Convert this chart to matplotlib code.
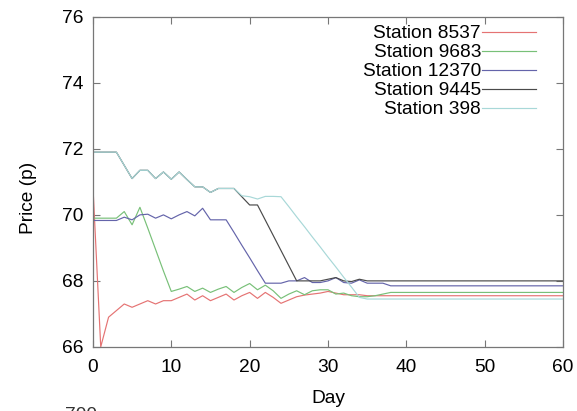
import numpy as np
import matplotlib.pyplot as plt

plt.rcParams['font.family'] = ['Liberation Sans', 'DejaVu Sans']

days = np.arange(0, 61)

# daily prices (p)
price_8537 = [70.9, 66.0, 66.9, 67.1, 67.3, 67.2, 67.3, 67.4, 67.3, 67.4,
              67.4, 67.5, 67.6, 67.42, 67.55, 67.4, 67.5, 67.6, 67.42, 67.55,
              67.65, 67.47, 67.65, 67.5, 67.32, 67.42, 67.52, 67.57, 67.6, 67.63,
              67.68, 67.63, 67.58, 67.58, 67.58] + [67.55] * 26
price_9683 = [69.9, 69.9, 69.9, 69.9, 70.1, 69.7, 70.23, 69.6, 68.95, 68.3,
              67.68, 67.75, 67.83, 67.68, 67.78, 67.65, 67.75, 67.83, 67.65, 67.8,
              67.92, 67.73, 67.87, 67.7, 67.47, 67.6, 67.7, 67.58, 67.7, 67.73,
              67.73, 67.6, 67.63, 67.55, 67.52, 67.52, 67.55, 67.6] + [67.65] * 23
price_12370 = [69.83, 69.83, 69.83, 69.83, 69.93, 69.85, 70.0, 70.02, 69.9, 70.0,
               69.88, 70.0, 70.1, 69.97, 70.2, 69.85, 69.85, 69.85, 69.47, 69.08,
               68.7, 68.31, 67.93, 67.93, 67.93, 68.0, 68.0, 68.1, 67.95, 67.95,
               68.0, 68.1, 67.95, 67.93, 68.03, 67.93, 67.93, 67.93] + [67.85] * 23
price_9445 = [71.9, 71.9, 71.9, 71.9, 71.5, 71.1, 71.35, 71.35, 71.1, 71.3,
              71.08, 71.3, 71.07, 70.85, 70.85, 70.68, 70.8, 70.8, 70.8, 70.55,
              70.3, 70.3, 69.84, 69.38, 68.92, 68.46, 68.0, 68.0, 68.0, 68.0,
              68.05, 68.1, 68.0, 67.98, 68.05] + [68.0] * 26
price_398 = [71.9, 71.9, 71.9, 71.9, 71.5, 71.1, 71.35, 71.35, 71.1, 71.3,
             71.08, 71.3, 71.07, 70.85, 70.85, 70.68, 70.8, 70.8, 70.8, 70.58,
             70.55, 70.48, 70.56, 70.56, 70.55, 70.25, 69.94, 69.64, 69.33, 69.03,
             68.72, 68.42, 68.11, 67.81, 67.5] + [67.45] * 26

series = [("Station 8537", price_8537, "#e57373"),
          ("Station 9683", price_9683, "#78c078"),
          ("Station 12370", price_12370, "#6464aa"),
          ("Station 9445", price_9445, "#4a4a4a"),
          ("Station 398", price_398, "#a8d8d8")]

FS = 13.8

fig = plt.figure(figsize=(5.77, 4.11), dpi=100)
ax = fig.add_axes([0.161, 0.156, 0.815, 0.803])

for name, y, c in series:
  ax.plot(days, y, color=c, lw=0.85, label=name)

ax.set_xlim(0, 60)
ax.set_ylim(66, 76)
ax.set_xticks(range(0, 61, 10))
ax.set_yticks(range(66, 77, 2))
ax.tick_params(direction="in", top=True, right=True, length=5, width=0.8,
               color="#777777", labelsize=FS, pad=7)
ax.tick_params(axis="x", pad=9)
for s in ax.spines.values():
  s.set_color("#777777")
  s.set_linewidth(0.9)

ax.set_xlabel("Day", fontsize=FS)
ax.set_ylabel("Price (p)", fontsize=FS)
ax.xaxis.set_label_coords(0.5, -0.13)
ax.yaxis.set_label_coords(-0.118, 0.45)

ax.legend(loc="upper right", bbox_to_anchor=(0.966, 1.01), frameon=False,
          markerfirst=False, fontsize=FS, handlelength=2.8,
          handletextpad=0.05, labelspacing=0.08, borderaxespad=0.2)

fig.text(0.112, -0.012, "700", fontsize=FS, va="center", color="#333333")

fig.savefig("out.png", dpi=100)
